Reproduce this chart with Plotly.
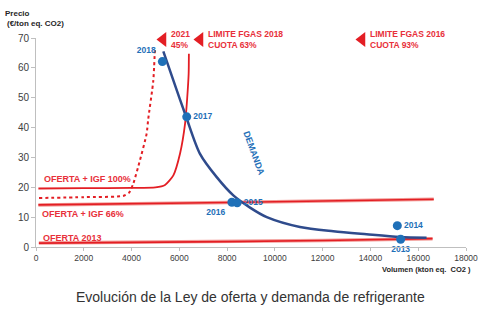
import plotly.graph_objects as go

# Supply curves (Volumen kton eq. CO2, Precio €/ton eq. CO2)
oferta2013_x = [120, 4000, 8000, 12000, 16600]
oferta2013_y = [1.3, 1.5, 1.8, 2.2, 2.8]

igf66_x = [100, 4000, 8000, 12000, 16650]
igf66_y = [14.1, 14.4, 14.9, 15.4, 16.0]

igf100_x = [100, 2000, 4000, 5000, 5400, 5750, 6030, 6240, 6330, 6390, 6400]
igf100_y = [19.6, 19.7, 19.8, 20.0, 20.8, 24.0, 31.3, 41.3, 50.0, 58.0, 64.7]

igf2021_x = [125, 2000, 3650, 3900, 4070, 4350, 4630, 4700, 4910, 4980]
igf2021_y = [16.4, 16.7, 17.1, 18.2, 21.2, 29.0, 37.9, 43.0, 55.7, 67.0]

# Demand curve
demanda_x = [5330, 5750, 6280, 6865, 7565, 8260, 8960, 9660, 11050, 12445, 13840, 15237, 16350]
demanda_y = [65.5, 55.8, 43.7, 31.2, 23.4, 17.3, 13.2, 10.0, 6.7, 5.25, 4.25, 3.35, 3.1]

# Yearly points
years = ["2018", "2017", "2016", "2015", "2014", "2013"]
years_x = [5290, 6310, 8200, 8420, 15125, 15265]
years_y = [62.1, 43.6, 15.0, 14.8, 7.15, 2.6]
years_pos = ["top left", "middle right", "bottom left", "middle right", "middle right", "bottom center"]

# Quota markers
limit_x = [5316, 6865, 13646]
limit_y = [69.5, 69.5, 69.5]
limit_text = ["2021<br>45%", "LIMITE FGAS 2018<br>CUOTA 63%", "LIMITE FGAS 2016<br>CUOTA 93%"]

supply_labels = ["OFERTA + IGF 100%", "OFERTA + IGF 66%", "OFERTA 2013"]
supply_label_x = [260, 170, 200]
supply_label_y = [22.8, 10.9, 2.9]

RED = "#e31e24"
RED_TXT = "#e8303a"
BLUE = "#1f70b8"
NAVY = "#2f4b8c"
FONT = "Liberation Sans, Arial, sans-serif"

fig = go.Figure()

for xs, ys in [(oferta2013_x, oferta2013_y), (igf66_x, igf66_y)]:
    fig.add_trace(go.Scatter(x=xs, y=ys, mode="lines", line=dict(color="#f29a96", width=3.5),
                             hoverinfo="skip", showlegend=False))
    fig.add_trace(go.Scatter(x=xs, y=ys, mode="lines", line=dict(color=RED, width=1.6),
                             showlegend=False))

fig.add_trace(go.Scatter(x=igf100_x, y=igf100_y, mode="lines",
                         line=dict(color=RED, width=1.8, shape="spline", smoothing=0.6),
                         showlegend=False))
fig.add_trace(go.Scatter(x=igf2021_x, y=igf2021_y, mode="lines",
                         line=dict(color=RED, width=2, dash="dot", shape="spline", smoothing=0.6),
                         showlegend=False))
fig.add_trace(go.Scatter(x=demanda_x, y=demanda_y, mode="lines",
                         line=dict(color=NAVY, width=2.5, shape="spline", smoothing=0.8),
                         showlegend=False))

fig.add_trace(go.Scatter(x=years_x, y=years_y, mode="markers+text",
                         marker=dict(color=BLUE, size=9),
                         text=["<b>%s</b>" % t for t in years], textposition=years_pos,
                         textfont=dict(color=BLUE, size=8.5, family=FONT),
                         cliponaxis=False, showlegend=False))

fig.add_trace(go.Scatter(x=limit_x, y=limit_y, mode="markers",
                         marker=dict(color=RED, size=13, symbol="triangle-left"),
                         cliponaxis=False, showlegend=False))

for lx, ly, lt in zip(limit_x, limit_y, limit_text):
    fig.add_annotation(x=lx, y=ly, text="<b>%s</b>" % lt, showarrow=False,
                       xanchor="left", yanchor="middle", align="left", xshift=6,
                       font=dict(color=RED_TXT, size=8.5, family=FONT))

for sx, sy, st in zip(supply_label_x, supply_label_y, supply_labels):
    fig.add_annotation(x=sx, y=sy, text="<b>%s</b>" % st, showarrow=False,
                       xanchor="left", yanchor="middle",
                       font=dict(color=RED_TXT, size=9, family=FONT))

fig.add_annotation(x=9125, y=31.5, text="<b>DEMANDA</b>", showarrow=False, textangle=70,
                   font=dict(color=BLUE, size=9, family=FONT))

# Axis titles and caption
fig.add_annotation(xref="paper", yref="paper", x=-0.0093, y=1.115, text="<b>Precio</b>",
                   showarrow=False, xanchor="right", yanchor="middle",
                   font=dict(color="#262626", size=8, family=FONT))
fig.add_annotation(xref="paper", yref="paper", x=0.0698, y=1.067, text="<b>(€/ton eq. CO2)</b>",
                   showarrow=False, xanchor="right", yanchor="middle",
                   font=dict(color="#262626", size=8, family=FONT))
fig.add_annotation(xref="paper", yref="paper", x=1.0, y=-0.108, xshift=7,
                   text="<b>Volumen (kton eq.  CO2 )</b>",
                   showarrow=False, xanchor="right", yanchor="middle",
                   font=dict(color="#262626", size=7.5, family=FONT))
fig.add_annotation(xref="paper", yref="paper", x=0.498, y=-0.239,
                   text="Evolución de la Ley de oferta y demanda de refrigerante",
                   showarrow=False, xanchor="center", yanchor="middle",
                   font=dict(color="#333333", size=14, family="Liberation Sans Narrow, Arial Narrow, sans-serif"))

fig.update_xaxes(range=[0, 18000], dtick=2000, tick0=0, tickformat="d", showgrid=False, zeroline=False,
                 showline=True, linecolor="#bfbfbf", linewidth=1, ticks="outside",
                 tickcolor="#bfbfbf", ticklen=3,
                 tickfont=dict(color="#404040", size=8.5, family=FONT))
fig.update_yaxes(range=[0, 70], dtick=10, tick0=0, showgrid=False, zeroline=False,
                 showline=True, linecolor="#bfbfbf", linewidth=1, ticks="outside",
                 tickcolor="#bfbfbf", ticklen=4,
                 tickfont=dict(color="#404040", size=10, family=FONT))

fig.update_layout(width=500, height=336, margin=dict(l=36, r=34, t=38, b=89),
                  paper_bgcolor="white", plot_bgcolor="white", showlegend=False)

fig.write_html("out.html")
